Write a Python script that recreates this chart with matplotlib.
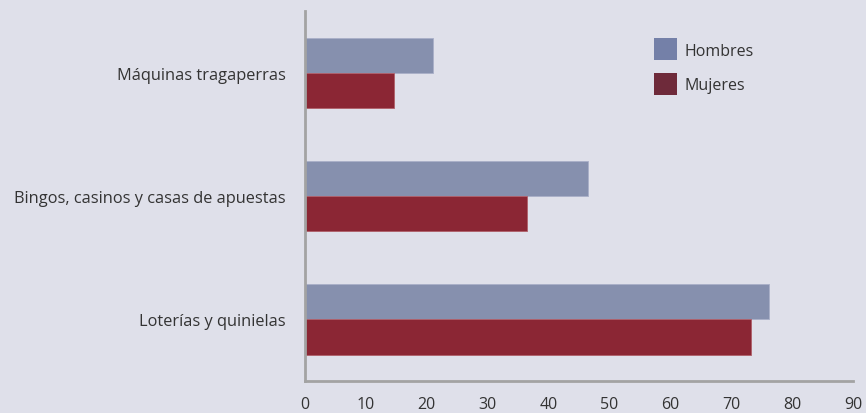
import matplotlib
matplotlib.use("Agg")
import matplotlib.pyplot as plt
import numpy as np
from matplotlib.patches import Patch

categories = ["Loterías y quinielas", "Bingos, casinos y casas de apuestas", "Máquinas tragaperras"]
hombres = [76.2, 46.5, 21.1]
mujeres = [73.2, 36.4, 14.6]
xticks = list(range(0, 100, 10))

BG = "#dfe0ea"
C_H = "#8690ae"
C_M = "#8b2634"
C_H_LEG = "#7480a8"
C_M_LEG = "#6e2a3a"
SPINE = "#a3a3a3"
INK = "#333333"

plt.rcParams["font.family"] = ["Open Sans", "DejaVu Sans"]

fig = plt.figure(figsize=(8.66, 4.14), dpi=100, facecolor=BG)
ax = fig.add_axes([0.352, 0.077, 0.633, 0.894], facecolor=BG)

y = np.arange(len(categories))
h = 0.285
ax.barh(y + h / 2, hombres, height=h, color=C_H, edgecolor="#a9afc8", linewidth=0.6)
ax.barh(y - h / 2, mujeres, height=h, color=C_M, edgecolor="#b0606a", linewidth=0.6)

ax.set_xlim(0, 90)
ax.set_ylim(-0.5, 2.5)
ax.set_xticks(xticks)
ax.set_yticks(y)
ax.set_yticklabels(categories)
ax.tick_params(axis="x", length=0, labelsize=11.5, colors=INK, pad=11)
ax.tick_params(axis="y", length=0, labelsize=11.8, colors=INK, pad=14)

for side in ("top", "right"):
    ax.spines[side].set_visible(False)
for side in ("left", "bottom"):
    ax.spines[side].set_color(SPINE)
    ax.spines[side].set_linewidth(2)

handles = [Patch(facecolor=C_H_LEG, label="Hombres"),
           Patch(facecolor=C_M_LEG, label="Mujeres")]
fig.legend(handles=handles, loc="upper left", bbox_to_anchor=(0.755, 0.905),
           frameon=False, fontsize=11.5, handlelength=1.45, handleheight=1.75,
           handletextpad=0.45, labelspacing=0.8, borderpad=0, borderaxespad=0,
           labelcolor=INK)

fig.savefig("out.png", dpi=100, facecolor=BG)
